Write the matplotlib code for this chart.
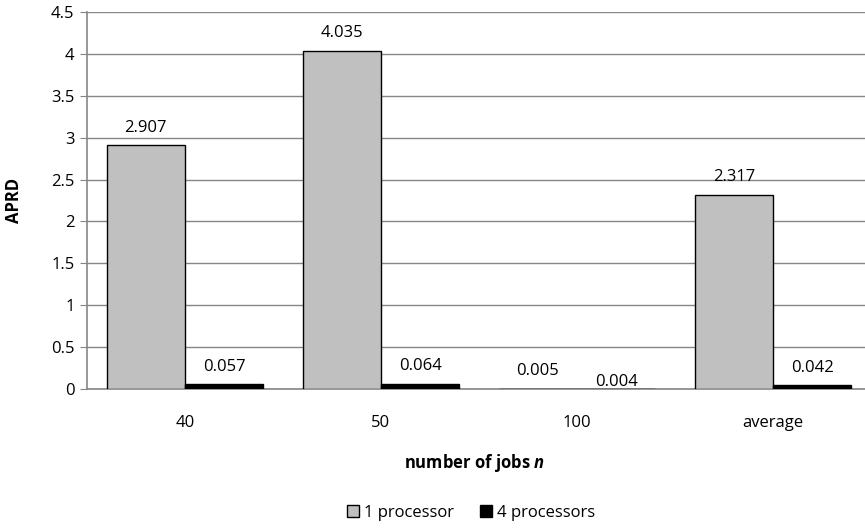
import numpy as np
import matplotlib.pyplot as plt

plt.rcParams['font.family'] = ['Open Sans', 'DejaVu Sans']
plt.rcParams['mathtext.fontset'] = 'custom'
plt.rcParams['mathtext.bfit'] = 'Open Sans:bold:italic'

categories = ['40', '50', '100', 'average']
one_proc = [2.907, 4.035, 0.005, 2.317]
four_proc = [0.057, 0.064, 0.004, 0.042]

fig = plt.figure(figsize=(8.65, 5.28), dpi=100)
# plot area in pixel terms: left 87, right ~871, top 12, bottom 389
ax = fig.add_axes([87 / 865, 1 - 389 / 528, 784 / 865, 377 / 528])

x = np.arange(len(categories))
w = 0.4
b1 = ax.bar(x - w / 2, one_proc, w, color='#C0C0C0', edgecolor='black', linewidth=1, label='1 processor', zorder=3)
b2 = ax.bar(x + w / 2, four_proc, w, color='black', edgecolor='black', linewidth=1, label='4 processors', zorder=3)

fs = 12

# value labels above each bar
for bars in (b1, b2):
    for rect in bars:
        h = rect.get_height()
        off = 7
        if h == 0.004:
            off = -1  # nudged down so it doesn't collide with the neighbour
        ax.annotate(f'{h:.3f}', (rect.get_x() + rect.get_width() / 2, h),
                    xytext=(0, off), textcoords='offset points',
                    ha='center', va='bottom', fontsize=fs, color='black')

ax.set_xlim(-0.5, len(categories) - 0.5)
ax.set_ylim(0, 4.5)
ax.set_yticks(np.arange(0, 4.51, 0.5))
ax.set_yticklabels(['0', '0.5', '1', '1.5', '2', '2.5', '3', '3.5', '4', '4.5'])
ax.set_xticks(x)
ax.set_xticklabels(categories)
ax.tick_params(axis='y', length=5, color='#868686', labelsize=fs, pad=4)
ax.tick_params(axis='x', length=0, labelsize=fs, pad=19)

ax.yaxis.grid(True, color='#868686', linewidth=1, zorder=0)
ax.set_axisbelow(True)
for s in ('top', 'right'):
    ax.spines[s].set_visible(False)
ax.spines['left'].set_color('#868686')
ax.spines['bottom'].set_color('#868686')
ax.spines['left'].set_linewidth(1.2)
ax.spines['bottom'].set_linewidth(1.2)

ax.set_ylabel('APRD', fontsize=fs, fontweight='bold', labelpad=20)
fig.text(475 / 865, 1 - 463 / 528, r'number of jobs $\boldsymbol{n}$', ha='center', va='center',
         fontsize=fs, fontweight='bold')

fig.legend(handles=[b1, b2], loc='center', bbox_to_anchor=(471 / 865, 1 - 513 / 528),
           ncol=2, frameon=False, fontsize=fs, handlelength=0.7, handleheight=0.7,
           handletextpad=0.3, columnspacing=1.6)

plt.savefig('out.png', dpi=100)
